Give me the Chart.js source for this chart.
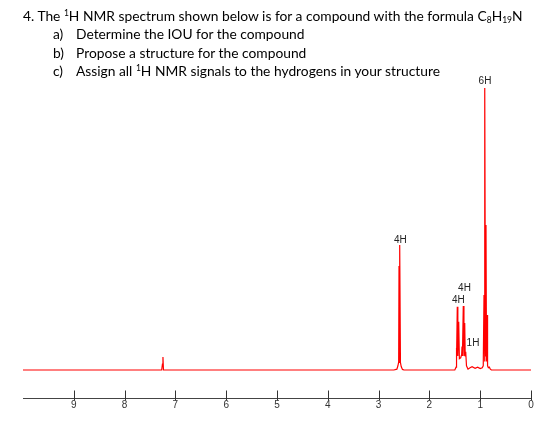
<!DOCTYPE html>
<html>
<head>
<meta charset="utf-8">
<script src="https://cdn.jsdelivr.net/npm/chart.js@4/dist/chart.umd.min.js"></script>
<style>
  html, body { margin: 0; padding: 0; background: #fff; }
  #wrap { position: relative; width: 560px; height: 429px; }
  #chart { position: absolute; left: 0; top: 0; }
  .q { position: absolute; font-family: Lato, "Open Sans", sans-serif; font-size: 13.8px; color: #000; white-space: nowrap; line-height: 1; }
  .q sup, .q sub { font-size: 8.5px; line-height: 0; }
  .q sup { vertical-align: 5px; }
  .q sub { vertical-align: -2px; }
  .lbl { display: inline-block; width: 23px; }
</style>
</head>
<body>
<div id="wrap">
  <canvas id="chart" width="560" height="429"></canvas>
  <div class="q" style="left:23px; top:9px;">4. The <sup>1</sup>H NMR spectrum shown below is for a compound with the formula C<sub>8</sub>H<sub>19</sub>N</div>
  <div class="q" style="left:53px; top:27px;"><span class="lbl">a)</span>Determine the IOU for the compound</div>
  <div class="q" style="left:53px; top:46px;"><span class="lbl">b)</span>Propose a structure for the compound</div>
  <div class="q" style="left:53px; top:64px;"><span class="lbl">c)</span>Assign all <sup>1</sup>H NMR signals to the hydrogens in your structure</div>
</div>
<script>
// Chemical shift (ppm) and relative intensity of the traced spectrum
const shiftPpm = [
  10.00, 7.270, 7.255, 7.245, 7.235,
  2.700, 2.640, 2.620, 2.605, 2.598, 2.590, 2.579, 2.570, 2.555, 2.530, 2.500,
  1.500, 1.475, 1.470, 1.462, 1.451, 1.440, 1.423, 1.410, 1.384, 1.365, 1.358, 1.350,
  1.333, 1.320, 1.305, 1.295, 1.285, 1.270, 1.240, 1.200, 1.160, 1.100, 1.050, 1.000,
  0.960, 0.940, 0.925, 0.915, 0.906, 0.896, 0.886, 0.876, 0.866, 0.855, 0.840, 0.820,
  0.800, 0.780, 0.00
];
const intensity = [
  0, 0, 2.1, 4.6, 0,
  0, 0.3, 1.5, 2.8, 36.9, 2.5, 44.3, 2.6, 1.2, 0.2, 0,
  0, 1.0, 7.8, 3.5, 22.4, 5.0, 17.1, 4.0, 4.3, 5.5, 8.3, 5.0,
  22.7, 5.0, 16.7, 5.0, 6.5, 1.5, 0.3, 0.8, 1.2, 0.6, 1.0, 0.5,
  0.8, 1.5, 26.6, 3.0, 100, 5.0, 51.4, 3.0, 19.5, 1.5, 0.8, 1.0,
  0.3, 0, 0
];
// Axis tick values (ppm)
const tickPpm = [9, 8, 7, 6, 5, 4, 3, 2, 1, 0];
// Integration annotations
const annText  = ['6H', '4H', '4H', '4H', '1H'];
const annPpm   = [0.906, 2.570, 1.309, 1.431, 1.142];
const annLevel = [102.5, 46.0, 29.0, 24.6, 9.6];

const points = shiftPpm.map((x, i) => ({ x: x, y: intensity[i] }));

const extras = {
  id: 'extras',
  afterDatasetsDraw(chart) {
    const ctx = chart.ctx;
    const xs = chart.scales.x, ys = chart.scales.y;
    const yAxis = chart.chartArea.bottom;
    ctx.save();
    ctx.strokeStyle = '#333';
    ctx.lineWidth = 1;
    tickPpm.forEach(v => {
      const px = Math.round(xs.getPixelForValue(v)) + 0.5;
      ctx.beginPath();
      ctx.moveTo(px, yAxis - 7.5);
      ctx.lineTo(px, yAxis + 2.5);
      ctx.stroke();
    });
    ctx.fillStyle = '#222';
    ctx.font = '10px "Liberation Sans", Arial, sans-serif';
    ctx.textAlign = 'center';
    ctx.textBaseline = 'middle';
    annText.forEach((t, i) => {
      ctx.fillText(t, xs.getPixelForValue(annPpm[i]), ys.getPixelForValue(annLevel[i]));
    });
    ctx.restore();
  }
};

new Chart(document.getElementById('chart'), {
  type: 'line',
  data: {
    datasets: [{
      data: points,
      borderColor: '#ff0000',
      borderWidth: 1.2,
      pointRadius: 0,
      tension: 0,
      fill: false
    }]
  },
  options: {
    responsive: false,
    animation: false,
    layout: { padding: { left: 23, right: 29, top: 88, bottom: 15 } },
    plugins: { legend: { display: false }, tooltip: { enabled: false }, title: { display: false } },
    scales: {
      x: {
        type: 'linear',
        reverse: true,
        min: 0,
        max: 10,
        afterFit(s) { s.height = 16; },
        afterBuildTicks(s) { s.ticks = tickPpm.map(v => ({ value: v })); },
        grid: { display: true, drawOnChartArea: false, drawTicks: false },
        border: { display: true, color: '#444', width: 1 },
        ticks: {
          padding: 1,
          color: '#333',
          font: { family: '"Liberation Sans", Arial, sans-serif', size: 10 },
          maxRotation: 0,
          autoSkip: false
        }
      },
      y: {
        display: false,
        min: -9.93,
        max: 100
      }
    }
  },
  plugins: [extras]
});
</script>
</body>
</html>
